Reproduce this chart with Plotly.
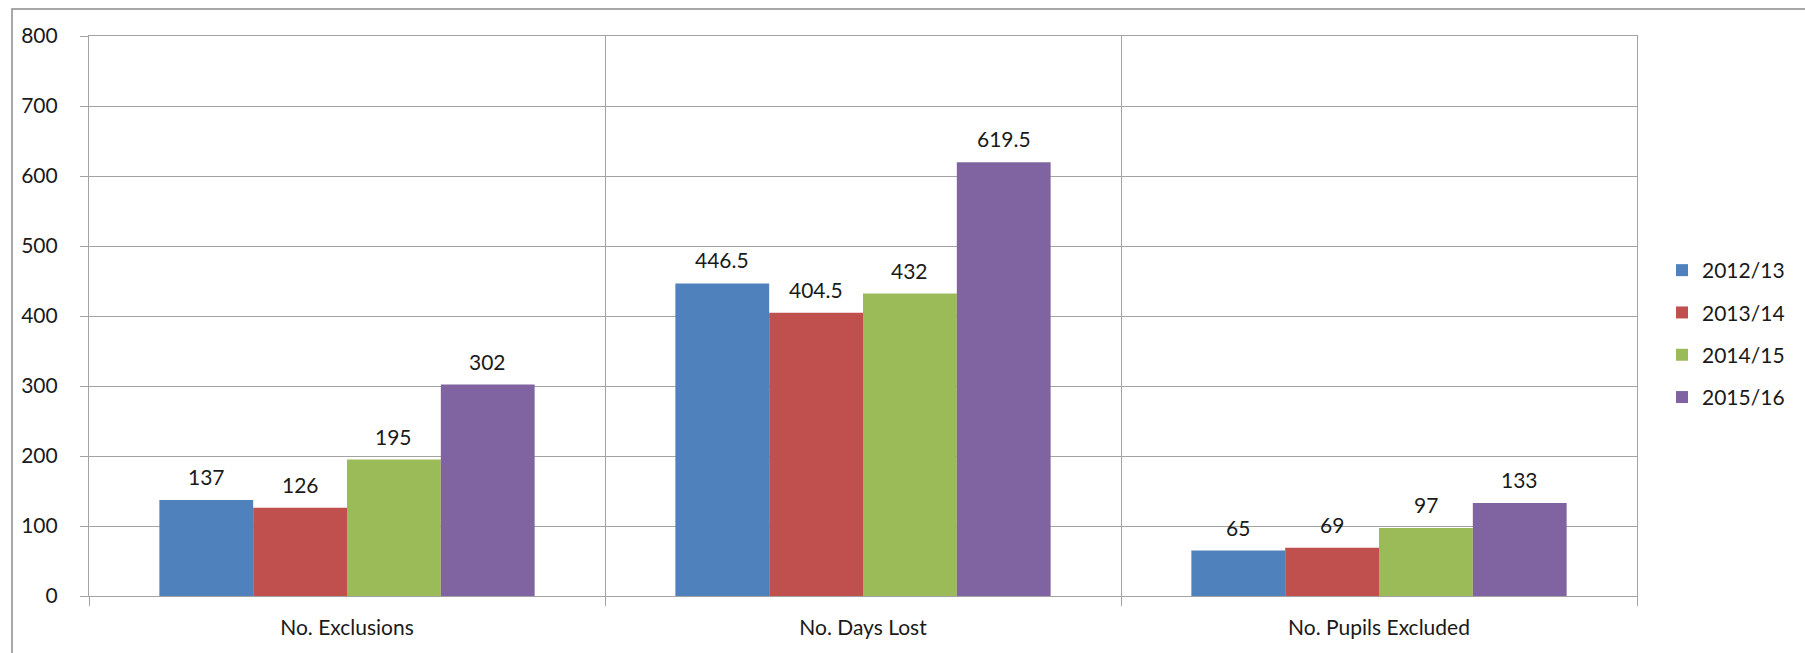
import plotly.graph_objects as go

# ---- data ----
categories = ["No. Exclusions", "No. Days Lost", "No. Pupils Excluded"]
series_names = ["2012/13", "2013/14", "2014/15", "2015/16"]
values_2012_13 = [137, 446.5, 65]
values_2013_14 = [126, 404.5, 69]
values_2014_15 = [195, 432, 97]
values_2015_16 = [302, 619.5, 133]
y_tick_values = [0, 100, 200, 300, 400, 500, 600, 700, 800]

series_values = [values_2012_13, values_2013_14, values_2014_15, values_2015_16]
colors = ["#4F81BD", "#C0504D", "#9BBB59", "#8064A2"]

FONT = "Lato, 'Open Sans', sans-serif"
TXT = "#1a1a1a"
GRID = "#A3A3A3"
FS = 21

W, H = 1805, 653
ML, MR, MT, MB = 89, 168, 36, 57
PW, PH = W - ML - MR, H - MT - MB

BARGAP = 1.5 / 5.5

fig = go.Figure()
for name, vals, col in zip(series_names, series_values, colors):
    fig.add_trace(go.Bar(
        name=name, x=categories, y=vals,
        marker=dict(color=col, line=dict(width=0)),
        legendgroup=name, hoverinfo="x+y+name",
    ))

n = len(series_names)
bw = (1 - BARGAP) / n
for si, vals in enumerate(series_values):
    for ci, v in enumerate(vals):
        fig.add_annotation(
            x=ci + (si - (n - 1) / 2) * bw, y=v, xref="x", yref="y",
            text=f"{v:g}", showarrow=False, yanchor="bottom", yshift=9,
            font=dict(family=FONT, size=FS, color=TXT),
        )

# outer chart border (top and left visible)
fig.add_shape(
    type="rect", xref="paper", yref="paper",
    x0=(12 - ML) / PW, x1=1.3, y0=-0.3, y1=(H - MB - 9) / PH,
    line=dict(color="#8C8C8C", width=1.5), fillcolor="rgba(0,0,0,0)",
)

fig.update_layout(
    width=W, height=H,
    margin=dict(l=ML, r=MR, t=MT, b=MB, pad=0),
    paper_bgcolor="white", plot_bgcolor="white",
    barmode="group", bargap=BARGAP, bargroupgap=0,
    font=dict(family=FONT, size=FS, color=TXT),
    legend=dict(
        x=(1662 - ML) / PW, xanchor="left",
        y=(H - MB - 334) / PH, yanchor="middle",
        font=dict(family=FONT, size=FS, color=TXT),
        tracegroupgap=12, bgcolor="rgba(0,0,0,0)",
    ),
    showlegend=True,
)

fig.update_xaxes(
    type="category", tickson="boundaries",
    showgrid=True, gridcolor=GRID, gridwidth=1.2,
    showline=True, linecolor=GRID, linewidth=1.2, mirror=True,
    ticks="outside", ticklen=9, tickcolor=GRID, tickwidth=1.2,
    ticklabelstandoff=13,
    tickfont=dict(family=FONT, size=FS, color=TXT),
)
fig.update_yaxes(
    range=[0, 800], tickvals=y_tick_values,
    showgrid=True, gridcolor=GRID, gridwidth=1.2,
    showline=True, linecolor=GRID, linewidth=1.2, mirror=True,
    ticks="outside", ticklen=8, tickcolor=GRID, tickwidth=1.2,
    ticklabelstandoff=18, zeroline=False,
    tickfont=dict(family=FONT, size=FS, color=TXT),
)

fig.write_html(
    "out.html",
    config={"displayModeBar": False},
    post_script="document.body.style.margin='0';document.body.style.overflow='hidden';",
)
